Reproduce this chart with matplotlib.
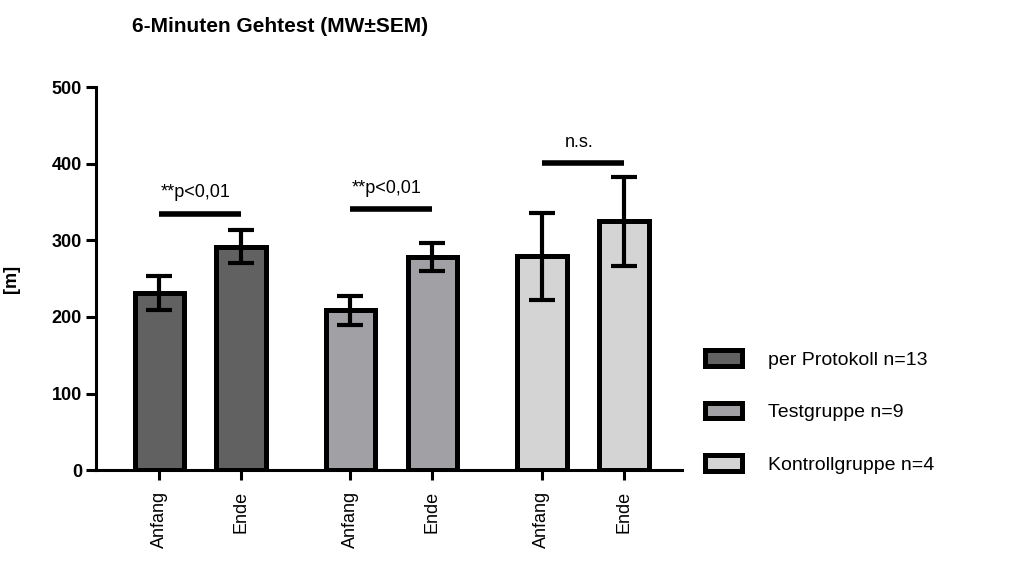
import numpy as np
import matplotlib
matplotlib.use("Agg")
import matplotlib.pyplot as plt
from matplotlib.patches import Patch

plt.rcParams["font.family"] = ["Liberation Sans", "DejaVu Sans"]

# 6-minute walk test, start vs. end per group (mean and SEM)
groups = ["per Protokoll n=13", "Testgruppe n=9", "Kontrollgruppe n=4"]
tick_labels = ["Anfang", "Ende", "Anfang", "Ende", "Anfang", "Ende"]
means = [231, 292, 209, 278, 279, 325]
sem = [22, 21, 19, 18, 57, 58]
sig_labels = ["**p<0,01", "**p<0,01", "n.s."]
sig_heights = [335, 341, 401]

colors = ["#616161", "#a1a0a5", "#d4d4d4"]

fig = plt.figure(figsize=(10.32, 5.74), dpi=100)
ax = fig.add_axes([0.093, 0.181, 0.568, 0.667])

x = np.array([0, 1, 2.33, 3.33, 4.67, 5.67])
bar_colors = [colors[i // 2] for i in range(6)]

ax.bar(x, means, width=0.6, color=bar_colors, edgecolor="black", linewidth=3.6, zorder=2)
ax.errorbar(x, means, yerr=sem, fmt="none", ecolor="black", elinewidth=3,
            capsize=9.5, capthick=3, zorder=3)

# significance bars between start and end of each group
for g in range(3):
    x0, x1 = x[2 * g], x[2 * g + 1]
    ax.plot([x0, x1], [sig_heights[g], sig_heights[g]], color="black", lw=4,
            solid_capstyle="butt", clip_on=False)
    ax.text((x0 + x1) / 2 - 0.05, sig_heights[g] + 16, sig_labels[g],
            ha="center", va="bottom", fontsize=13)

ax.set_xlim(-0.77, 6.38)
ax.set_ylim(0, 500)
ax.set_yticks(np.arange(0, 501, 100))
ax.set_xticks(x)
ax.set_xticklabels(tick_labels, rotation=90, fontsize=13, va="top")
for lbl in ax.get_yticklabels():
    lbl.set_fontweight("bold")
    lbl.set_fontsize(13)

ax.spines["top"].set_visible(False)
ax.spines["right"].set_visible(False)
ax.spines["left"].set_linewidth(2.2)
ax.spines["bottom"].set_linewidth(2.2)
ax.tick_params(axis="both", width=2.2, length=7, direction="out")
ax.tick_params(axis="y", pad=3)
ax.tick_params(axis="x", pad=8)

ax.set_ylabel("[m]", fontsize=13, fontweight="bold")
ax.yaxis.set_label_coords(-0.13, 0.5)

fig.text(0.128, 0.953, "6-Minuten Gehtest (MW±SEM)", fontsize=15,
         fontweight="bold", ha="left", va="center")

handles = [Patch(facecolor=c, edgecolor="black", linewidth=3.6) for c in colors]
fig.legend(handles, groups, loc="upper left", bbox_to_anchor=(0.674, 0.407),
           frameon=False, fontsize=14, handlelength=1.9, handleheight=0.85,
           labelspacing=1.75, handletextpad=1.35, borderpad=0)

fig.savefig("out.png", dpi=100)
